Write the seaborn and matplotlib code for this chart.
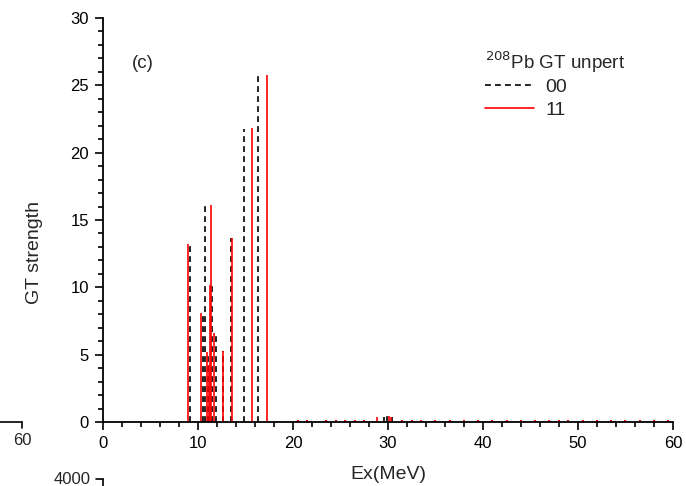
import matplotlib
matplotlib.use("Agg")
import matplotlib.pyplot as plt
import seaborn as sns
from matplotlib.ticker import MultipleLocator
from matplotlib.lines import Line2D

# ---- data ----
ex_00 = [9.16, 10.56, 10.74, 11.05, 11.15, 11.47, 11.89, 12.60, 13.47, 14.84, 16.28,
         29.6, 29.86, 30.4]
gt_00 = [13.3, 8.2, 16.1, 5.2, 4.2, 10.17, 6.58, 5.3, 13.64, 21.75, 25.8,
         0.37, 0.42, 0.35]
ex_11 = [8.91, 10.32, 10.91, 11.19, 11.26, 11.40, 11.72, 12.67, 13.61, 15.68, 17.23,
         28.8, 30.14, 30.28]
gt_11 = [13.2, 8.07, 5.2, 4.2, 10.17, 16.1, 6.58, 5.3, 13.64, 21.8, 25.8,
         0.35, 0.42, 0.37]
# tiny residual strength along the axis
ex_11_small = [20.5, 21.5, 23.5, 24.5, 25.5, 26.5, 27.5, 31.5, 32.5, 33.5, 35.0, 36.5,
               38.0, 39.5, 41.0, 42.5, 44.0, 45.5, 47.0, 48.0, 49.0, 50.5, 52.0, 53.5,
               55.0, 56.5, 58.0, 59.5]
gt_11_small = [0.14, 0.12, 0.13, 0.15, 0.14, 0.12, 0.15, 0.15, 0.14, 0.13, 0.12, 0.14,
               0.13, 0.12, 0.14, 0.13, 0.12, 0.14, 0.15, 0.13, 0.12, 0.14, 0.13, 0.12,
               0.13, 0.12, 0.14, 0.12]

sns.set_style("ticks")
plt.rcParams['font.family'] = ['Liberation Sans', 'DejaVu Sans']

fig = plt.figure(figsize=(6.86, 4.86), dpi=100)
ax = fig.add_axes([103/686, 1-422/486, 570/686, 404/486])

ax.vlines(ex_00, 0, gt_00, colors='black', linestyles=(0, (3.5, 2.5)), linewidth=1.2)
ax.vlines(ex_11, 0, gt_11, colors='red', linestyles='-', linewidth=1.2)
ax.vlines(ex_11_small, 0, gt_11_small, colors='red', linestyles='-', linewidth=1.5)

ax.set_xlim(0, 60)
ax.set_ylim(0, 30)
ax.xaxis.set_major_locator(MultipleLocator(10))
ax.xaxis.set_minor_locator(MultipleLocator(2))
ax.yaxis.set_major_locator(MultipleLocator(5))
ax.yaxis.set_minor_locator(MultipleLocator(1))
ax.tick_params(which='major', direction='out', length=6, width=1.2, labelsize=12,
               color='black', labelcolor='black', pad=4)
ax.tick_params(which='minor', direction='out', length=3.5, width=1.2, color='black')
for s in ['top', 'right']:
    ax.spines[s].set_visible(False)
for s in ['left', 'bottom']:
    ax.spines[s].set_linewidth(1.3)
    ax.spines[s].set_color('black')

ax.set_xlabel('Ex(MeV)', fontsize=14, labelpad=11)
ax.set_ylabel('GT strength', fontsize=14)
ax.yaxis.set_label_coords(-0.106, 0.42)

ax.text(4.2, 26.65, '(c)', fontsize=13.5, ha='center', va='center')

handles = [Line2D([], [], color='black', linestyle=(0, (3.5, 2.5)), linewidth=1.2),
           Line2D([], [], color='red', linestyle='-', linewidth=1.2)]
leg = ax.legend(handles, ['00', '11'], title='$^{208}$Pb GT unpert',
                loc='upper left', bbox_to_anchor=(0.64, 0.965), frameon=False,
                fontsize=14, title_fontsize=13.5, handlelength=2.5, handletextpad=0.6,
                labelspacing=0.3, alignment='left')
leg._legend_box.sep = 2

# fragments of neighbouring panels visible at the edges
fig.text(22/686, 1-440/486, '60', fontsize=12, ha='center', va='center')
fig.text(72/686, 1-479/486, '4000', fontsize=12, ha='center', va='center')
fig.add_artist(Line2D([0, 22/686], [1-422/486, 1-422/486], color='black', lw=1.2))
fig.add_artist(Line2D([22/686, 22/686], [1-422/486, 1-428/486], color='black', lw=1.2))
fig.add_artist(Line2D([96/686, 103/686], [1-479/486, 1-479/486], color='black', lw=1.2))
fig.add_artist(Line2D([103/686, 103/686], [1-479/486, 0], color='black', lw=1.2))

fig.savefig('out.png', dpi=100)
